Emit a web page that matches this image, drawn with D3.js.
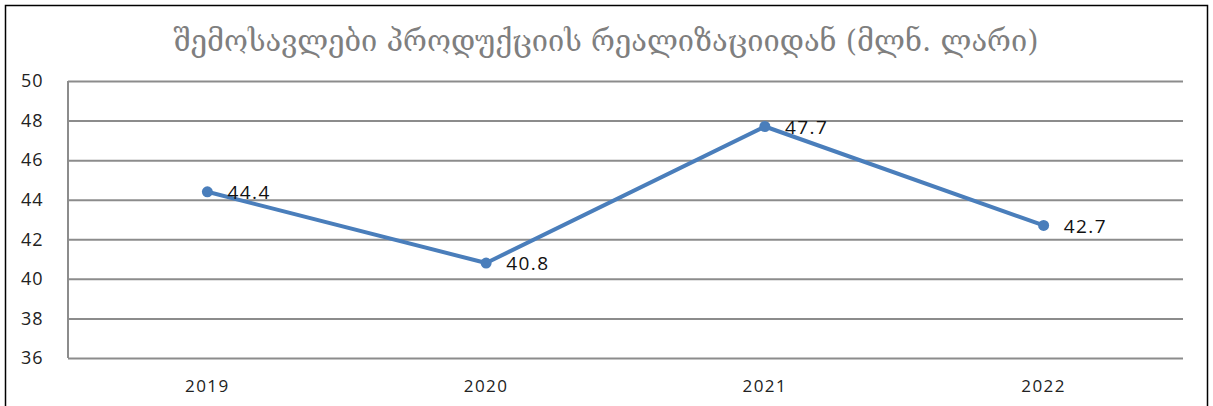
<!DOCTYPE html>
<html>
<head>
<meta charset="utf-8">
<script src="https://cdn.jsdelivr.net/npm/d3@7"></script>
<style>
  body { margin: 0; background: #fff; }
  .grid line { stroke: #8c8c8c; stroke-width: 2; }
  .grid path { display: none; }
  text { font-family: "Open Sans", "DejaVu Sans", sans-serif; }
</style>
</head>
<body>
<svg width="1213" height="406"></svg>
<script>
// Set chart dimensions
var width = 1213;
var height = 406;
var margin = { top: 81, right: 30, bottom: 48, left: 68 };

// data
var years = ['2019', '2020', '2021', '2022'];
var values = [44.4, 40.8, 47.7, 42.7];
var yTicks = [36, 38, 40, 42, 44, 46, 48, 50];
var title = 'შემოსავლები პროდუქციის რეალიზაციიდან (მლნ. ლარი)';

var svg = d3.select('svg');

// outer frame (bottom edge falls outside the picture)
svg.append('path')
  .attr('d', 'M5.5,' + (height + 5) + 'V5.5H1207.5V' + (height + 5))
  .attr('fill', 'none')
  .attr('stroke', '#000')
  .attr('stroke-width', 1.5);

var scaleX = d3.scaleBand()
  .domain(years)
  .range([margin.left, width - margin.right]);

var scaleY = d3.scaleLinear()
  .domain([36, 50])
  .range([358, margin.top]);

// gridlines
var yAxis = d3.axisLeft(scaleY)
  .tickValues(yTicks)
  .tickSize(-(width - margin.right - margin.left))
  .tickFormat('');

svg.append('g')
  .attr('class', 'grid')
  .attr('transform', 'translate(' + margin.left + ',0)')
  .call(yAxis);

// y axis line
svg.append('line')
  .attr('x1', margin.left).attr('x2', margin.left)
  .attr('y1', scaleY(50)).attr('y2', scaleY(36))
  .attr('stroke', '#8c8c8c')
  .attr('stroke-width', 2);

// y tick labels
svg.selectAll('.ylab')
  .data(yTicks)
  .enter()
  .append('text')
    .attr('class', 'ylab')
    .attr('x', 21)
    .attr('y', d => scaleY(d))
    .attr('dy', '0.35em')
    .style('font-size', '18px')
    .style('letter-spacing', '1px')
    .style('fill', '#222')
    .text(d => d);

// x labels
svg.selectAll('.xlab')
  .data(years)
  .enter()
  .append('text')
    .attr('class', 'xlab')
    .attr('x', d => scaleX(d) + scaleX.bandwidth() / 2)
    .attr('y', 392)
    .style('text-anchor', 'middle')
    .style('font-size', '17px')
    .style('letter-spacing', '1.5px')
    .style('fill', '#222')
    .text(d => d);

// line
var line = d3.line()
  .x((d, i) => scaleX(years[i]) + scaleX.bandwidth() / 2)
  .y(d => scaleY(d));

svg.append('path')
  .datum(values)
  .attr('d', line)
  .attr('fill', 'none')
  .attr('stroke', '#4a7ebb')
  .attr('stroke-width', 4)
  .attr('stroke-linejoin', 'round');

svg.selectAll('circle')
  .data(values)
  .enter()
  .append('circle')
    .attr('cx', (d, i) => scaleX(years[i]) + scaleX.bandwidth() / 2)
    .attr('cy', d => scaleY(d))
    .attr('r', 5.5)
    .attr('fill', '#4a7ebb');

// data labels
svg.selectAll('.vlab')
  .data(values)
  .enter()
  .append('text')
    .attr('class', 'vlab')
    .attr('x', (d, i) => scaleX(years[i]) + scaleX.bandwidth() / 2 + 20)
    .attr('y', d => scaleY(d))
    .attr('dy', '0.38em')
    .style('font-size', '19px')
    .style('letter-spacing', '1.5px')
    .style('fill', '#111')
    .text(d => d.toFixed(1));

// title
svg.append('text')
  .attr('x', 606)
  .attr('y', 51)
  .style('text-anchor', 'middle')
  .style('font-family', '"DejaVu Serif", "DejaVu Sans", serif')
  .style('font-size', '29px')
  .style('fill', '#7f7f7f')
  .text(title);
</script>
</body>
</html>
